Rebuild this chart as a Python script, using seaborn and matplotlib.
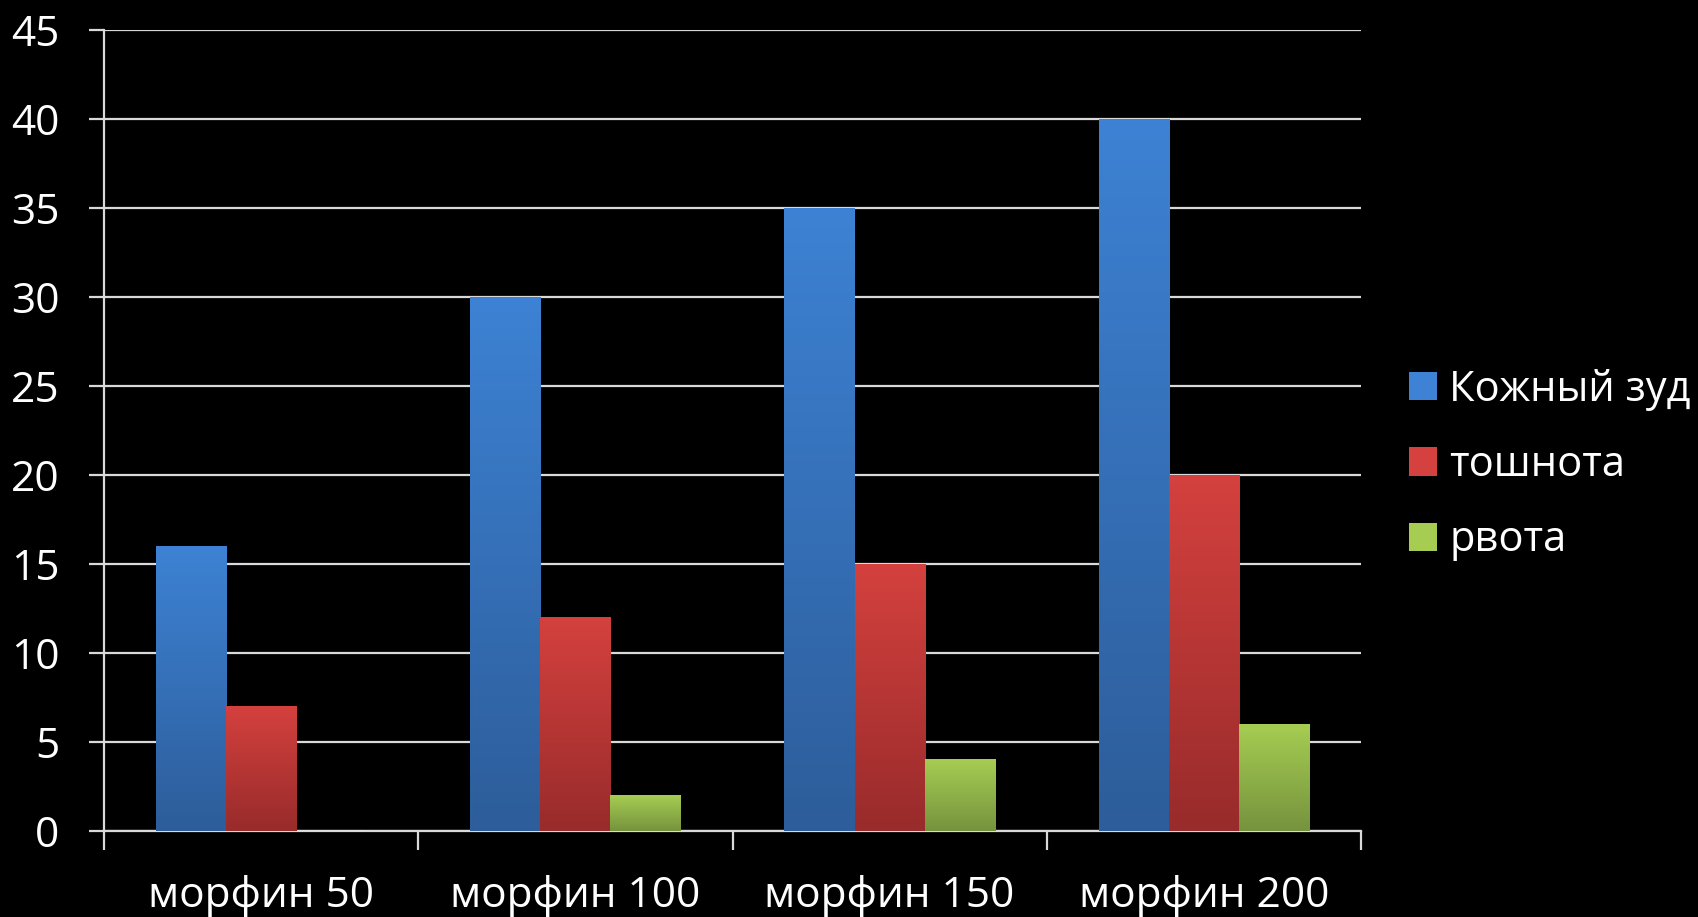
import numpy as np
import pandas as pd
import matplotlib
matplotlib.use("Agg")
import matplotlib.pyplot as plt
from matplotlib.colors import LinearSegmentedColormap
from matplotlib.patches import Patch
import seaborn as sns

categories = ["морфин 50", "морфин 100", "морфин 150", "морфин 200"]
series_names = ["Кожный зуд", "тошнота", "рвота"]
itch = [16, 30, 35, 40]
nausea = [7, 12, 15, 20]
vomit = [0, 2, 4, 6]
y_ticks = [0, 5, 10, 15, 20, 25, 30, 35, 40, 45]

# top / bottom colours of each series' vertical gradient
grad_top = ["#3d82d4", "#d4413e", "#a6cd52"]
grad_bottom = ["#2d5d9a", "#982b2b", "#76933e"]

df = pd.DataFrame({
    "category": np.repeat(categories, 3),
    "series": series_names * len(categories),
    "value": [v for trio in zip(itch, nausea, vomit) for v in trio],
})

sns.set_theme(style="dark")
plt.rcParams["font.family"] = ["Open Sans", "DejaVu Sans"]

fig = plt.figure(figsize=(16.98, 9.17), dpi=100, facecolor="black")
ax = fig.add_axes([104 / 1698, 1 - 831 / 917, (1361 - 104) / 1698, (831 - 30) / 917])
ax.set_facecolor("black")

sns.barplot(data=df, x="category", y="value", hue="series", order=categories,
            hue_order=series_names, palette=grad_top, width=0.67,
            saturation=1, legend=False, ax=ax, zorder=3)

# replace flat fills with vertical gradients spanning each bar
for patch in list(ax.patches):
    h = patch.get_height()
    if h <= 0:
        continue
    fc = np.array(patch.get_facecolor())
    idx = int(np.argmin([np.sum(np.abs(np.array(matplotlib.colors.to_rgba(c)) - fc))
                         for c in grad_top]))
    cmap = LinearSegmentedColormap.from_list("g", [grad_bottom[idx], grad_top[idx]])
    x0 = patch.get_x()
    w = patch.get_width()
    grad = np.linspace(0, 1, 256).reshape(-1, 1)
    ax.imshow(grad, cmap=cmap, origin="lower", aspect="auto",
              extent=(x0, x0 + w, 0, h), zorder=4, interpolation="bicubic")
    patch.set_visible(False)

ax.set_xlim(-0.5, len(categories) - 0.5)
ax.set_ylim(0, 45)
ax.set_yticks(y_ticks)
ax.set_xticks(range(len(categories)))
ax.set_xticklabels(categories)
ax.set_xticks(np.arange(-0.5, len(categories)), minor=True)
ax.set_xlabel("")
ax.set_ylabel("")

ax.grid(False)
ax.yaxis.grid(True, color="#d9d9d9", linewidth=1.6, zorder=1)
ax.set_axisbelow(True)
for side in ["top", "right"]:
    ax.spines[side].set_visible(False)
for side in ["left", "bottom"]:
    ax.spines[side].set_color("#d9d9d9")
    ax.spines[side].set_linewidth(1.6)

ax.tick_params(axis="y", which="major", left=True, length=11, width=1.6,
               color="#d9d9d9", labelcolor="white", labelsize=30.5, pad=21)
ax.tick_params(axis="x", which="major", bottom=False, labelcolor="white",
               labelsize=30.5, pad=26)
ax.tick_params(axis="x", which="minor", bottom=True, length=14, width=1.6,
               color="#d9d9d9")

handles = [Patch(facecolor=c, edgecolor="none") for c in grad_top]
fig.legend(handles, series_names, loc="center left",
           bbox_to_anchor=(1409 / 1698, 1 - 465 / 917), frameon=False,
           fontsize=30, labelcolor="white", handlelength=0.67, handleheight=0.67,
           handletextpad=0.3, labelspacing=0.8, borderpad=0, borderaxespad=0)

fig.savefig("out.png", dpi=100, facecolor="black")
